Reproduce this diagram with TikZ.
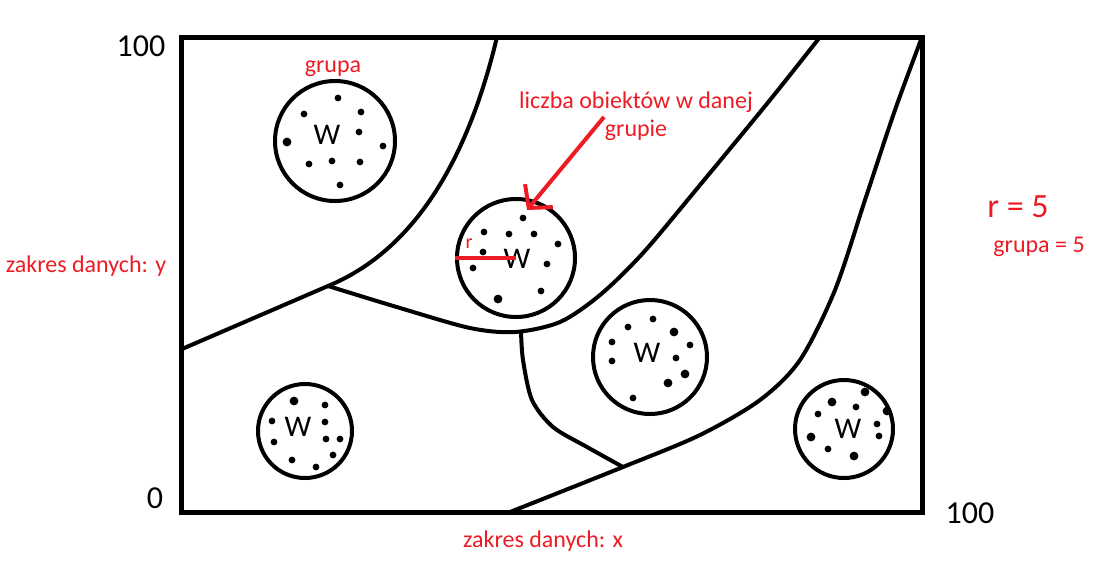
\documentclass[tikz,border=0pt]{standalone}
\usepackage{fontspec}
\setmainfont{Carlito}
\usetikzlibrary{arrows.meta}
\definecolor{paintred}{RGB}{237,28,36}

\begin{document}
\begin{tikzpicture}[x=1pt,y=-1pt,>=Stealth,
  grp/.style={draw,circle,line width=4pt,inner sep=0pt},
  wtxt/.style={font=\fontsize{30}{30}\selectfont},
  lab/.style={text=paintred,font=\fontsize{24}{28}\selectfont},
  num/.style={font=\fontsize{32}{32}\selectfont},
  bnd/.style={line width=4pt,line join=round}]
\useasboundingbox (0,0) rectangle (1099,563);
\draw[line width=5pt] (181,37) rectangle (922,512);
% borders between groups
\coordinate (j1) at (328,286); \coordinate (j2) at (521,331); \coordinate (j3) at (623,467);
\draw[bnd] (182,349) -- (j1) .. controls (420,248) and (470,150) .. (497,37);
\draw[bnd] plot[smooth] coordinates {(j1) (400,308) (470,328) (515,332) (560,322) (600,295) (643,253) (700,185) (770,100) (820,37)};
\draw[bnd] plot[smooth] coordinates {(j2) (523,360) (532,400) (553,427) (587,447) (j3)};
\draw[bnd] plot[smooth] coordinates {(510,512) (j3) (700,435) (760,400) (800,360) (835,290) (865,200) (895,110) (922,37)};
% groups
\node[grp,minimum size=120] (g1) at (335,141) {};
\node[grp,minimum size=118] (g2) at (516,258) {};
\node[grp,minimum size=114] (g3) at (650,357) {};
\node[grp,minimum size=94] (g4) at (305,431) {};
\node[grp,minimum size=98] (g5) at (844,429) {};
\node[wtxt] (w1) at (327,135) {W};
\node[wtxt] (w2) at (517,259) {W};
\node[wtxt] (w3) at (647,353) {W};
\node[wtxt] (w4) at (298,427) {W};
\node[wtxt] (w5) at (848,429) {W};
\foreach \p in {(338,98),(304,114),(361,112),(359,132),(383,146),(309,164),(332,161),(360,162),(340,185),
  (523,218),(484,232),(509,234),(534,234),(558,244),(483,252),(547,264),(473,268),(541,291),
  (653,319),(628,327),(612,342),(690,345),(612,361),(676,358),(633,398),
  (325,405),(272,421),(325,422),(326,439),(340,439),(274,442),(333,455),(292,460),(316,467),
  (856,407),(818,414),(877,424),(879,436),(828,449)}
  \fill \p circle (3.4);
\foreach \p in {(287,142),(498,299),(674,332),(685,374),(668,383),(294,401),
  (865,392),(832,402),(887,411),(811,437),(854,456)}
  \fill \p circle (4.4);
% labels
\node[num] (ytop) at (141,46) {100};
\node[num] (yzero) at (155,498) {0};
\node[num] (xmax) at (970,513) {100};
\node[lab] (gname) at (333,69) {grupa};
\node[lab] (zy) at (86,266) {zakres danych: y};
\node[lab] (zx) at (543,541) {zakres danych: x};
\node[lab,align=center] (cnt) at (636,116) {liczba obiektów w danej\\grupie};
\node[lab,font=\fontsize{34}{34}\selectfont] (rval) at (1018,207) {r = 5};
\node[lab] (gval) at (1039,247) {grupa = 5};
\node[lab,font=\fontsize{20}{20}\selectfont] (rlab) at (469,244) {r};
\coordinate (a0) at (604,117); \coordinate (a1) at (527,210);
\draw[paintred,line width=4pt,-{Straight Barb[length=16pt,width=36pt]}] (a0) -- (a1);
\draw[paintred,line width=4pt] (g2.west) -- (g2.center);
\end{tikzpicture}
\end{document}
